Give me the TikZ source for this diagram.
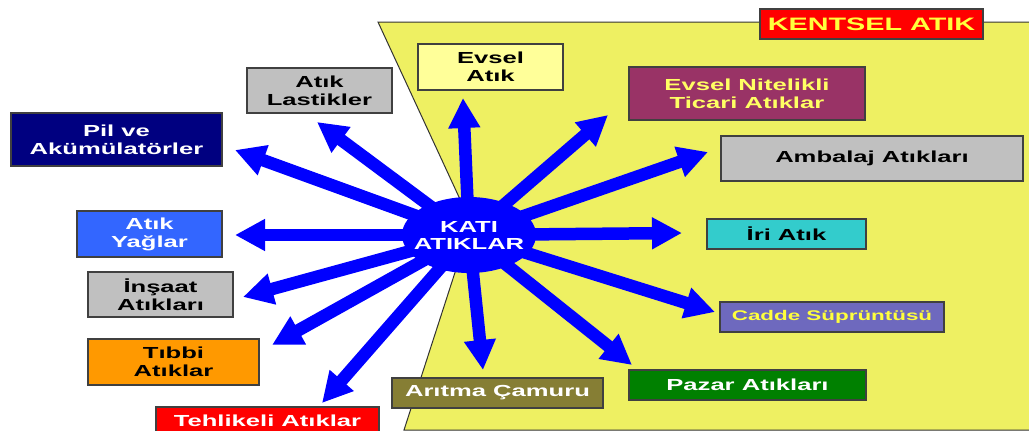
\documentclass[tikz,border=0pt]{standalone}
\usepackage{fontspec}
\setmainfont{Liberation Sans}[FakeStretch=1.6]
\usetikzlibrary{shapes.geometric, positioning, arrows.meta, backgrounds}
\definecolor{zone}{RGB}{238,240,98}
\definecolor{paleyellow}{RGB}{255,255,153}
\definecolor{plum}{RGB}{153,51,102}
\definecolor{silver}{RGB}{192,192,192}
\definecolor{teal}{RGB}{51,204,204}
\definecolor{slate}{RGB}{110,105,190}
\definecolor{darkgreen}{RGB}{0,128,0}
\definecolor{olive}{RGB}{134,126,52}
\definecolor{orange}{RGB}{255,153,0}
\definecolor{skyblue}{RGB}{51,102,255}
\definecolor{navy}{RGB}{0,0,128}
\definecolor{lemon}{RGB}{255,255,60}
\tikzset{
    box/.style={draw=black!75, line width=1.2pt, align=center, inner sep=0pt,
        font=\fontsize{16}{18}\selectfont\bfseries},
    hub/.style={ellipse, fill=blue, text=white, align=center,
        inner xsep=-14pt, inner ysep=0pt,
        minimum width=134pt, minimum height=76pt,
        font=\fontsize{16}{17}\selectfont\bfseries},
    ray/.style={draw=blue, line width=12.5pt, -{Triangle[width=30pt,length=30pt]}},
}

\begin{document}
\begin{tikzpicture}[x=1pt,y=-1pt]
\useasboundingbox (0,0) rectangle (1029,431);

\node[hub] (kati) at (469,235) {KATI\\ATIKLAR};

% kentsel atik side
\node[box, fill=red, text=lemon, font=\fontsize{18}{20}\selectfont\bfseries,
    minimum width=223pt, minimum height=30pt] (kentsel) at (871.5,24) {KENTSEL ATIK};
\node[box, fill=paleyellow, minimum width=145pt, minimum height=46pt] (evsel) at (490.5,67) {Evsel\\Atık};
\node[box, fill=plum, text=lemon!80!white, minimum width=236pt, minimum height=53pt] (nitelikli) at (747,93.5) {Evsel Nitelikli\\Ticari Atıklar};
\node[box, fill=silver, minimum width=302pt, minimum height=45pt] (ambalaj) at (872,158.5) {Ambalaj Atıkları};
\node[box, fill=teal, minimum width=159pt, minimum height=30pt] (iri) at (786.5,234) {İri Atık};
\node[box, fill=slate, text=lemon, font=\fontsize{14}{16}\selectfont\bfseries,
    minimum width=224pt, minimum height=30pt] (cadde) at (832,317) {Cadde Süprüntüsü};
\node[box, fill=darkgreen, text=white, minimum width=237pt, minimum height=30pt] (pazar) at (747.5,385) {Pazar Atıkları};
\node[box, fill=olive, text=white, minimum width=211pt, minimum height=30pt] (aritma) at (497.5,393) {Arıtma Çamuru};

% other side
\node[box, fill=red, text=white, minimum width=223pt, minimum height=27pt] (tehlikeli) at (267.5,420.5) {Tehlikeli Atıklar};
\node[box, fill=orange, minimum width=171pt, minimum height=46pt] (tibbi) at (173.5,362) {Tıbbi\\Atıklar};
\node[box, fill=silver, minimum width=145pt, minimum height=45pt] (insaat) at (160.5,294.5) {İnşaat\\Atıkları};
\node[box, fill=skyblue, text=white, minimum width=145pt, minimum height=46pt] (yaglar) at (149.5,234) {Atık\\Yağlar};
\node[box, fill=navy, text=white, minimum width=211pt, minimum height=53pt] (pil) at (116.5,139.5) {Pil ve\\Akümülatörler};
\node[box, fill=silver, minimum width=145pt, minimum height=45pt] (lastikler) at (319.5,90.5) {Atık\\Lastikler};

% arrow tips
\coordinate (tEvsel) at (463,98);
\coordinate (tNitelikli) at (608,115);
\coordinate (tAmbalaj) at (708,152);
\coordinate (tIri) at (682,233);
\coordinate (tCadde) at (715,312);
\coordinate (tPazar) at (632,365);
\coordinate (tAritma) at (483,370);
\coordinate (tTehlikeli) at (322,403);
\coordinate (tTibbi) at (272,345);
\coordinate (tInsaat) at (243,297);
\coordinate (tYaglar) at (235,235);
\coordinate (tPil) at (235,150);
\coordinate (tLastikler) at (317,122);

\begin{scope}[on background layer]
% zone
\draw[fill=zone, draw=black!80, line width=1pt]
    (378,22) -- (471,223) -- (404,430) -- (1040,430) -- (1040,22) -- cycle;

% rays
\draw[ray] (kati.center) -- (tEvsel);
\draw[ray] (kati.center) -- (tNitelikli);
\draw[ray] (kati.center) -- (tAmbalaj);
\draw[ray] (kati.center) -- (tIri);
\draw[ray] (kati.center) -- (tCadde);
\draw[ray] (kati.center) -- (tPazar);
\draw[ray] (kati.center) -- (tAritma);
\draw[ray] (kati.center) -- (tTehlikeli);
\draw[ray] (kati.center) -- (tTibbi);
\draw[ray] (kati.center) -- (tInsaat);
\draw[ray] (kati.center) -- (tYaglar);
\draw[ray] (kati.center) -- (tPil);
\draw[ray] (kati.center) -- (tLastikler);
\end{scope}

\end{tikzpicture}
\end{document}
